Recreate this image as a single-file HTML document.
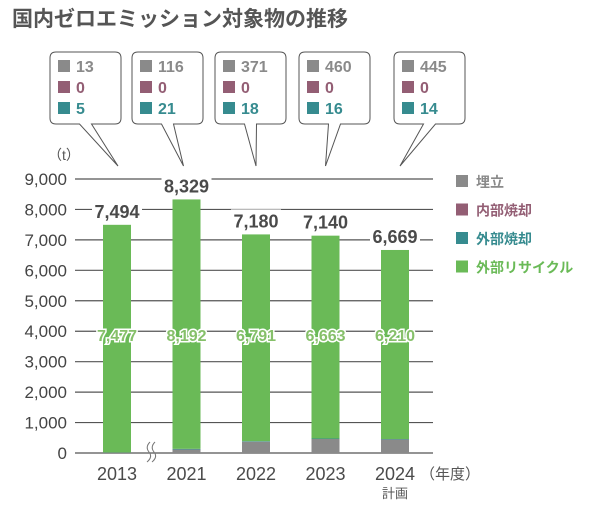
<!DOCTYPE html>
<html><head><meta charset="utf-8"><style>
body{margin:0;background:#fff;}
svg text{font-family:"Liberation Sans","Noto Sans CJK JP",sans-serif;}
</style></head><body>
<svg width="610" height="508" viewBox="0 0 610 508">
<text x="12" y="26" font-size="21" font-weight="bold" fill="#555">国内ゼロエミッション対象物の推移</text>
<text x="48" y="160" font-size="14" fill="#555">（t）</text>
<g id="grid"></g><g id="bars"></g><g id="labels"></g><g id="bubbles"></g>
<text x="420" y="479" font-size="15" fill="#555">（年度）</text>
<text x="395" y="498" font-size="13" fill="#555" text-anchor="middle">計画</text>
<path d="M150 442 q-5 5 -1 10 q4 5 -2 10 M155 442 q-5 5 -1 10 q4 5 -2 10" stroke="#777" fill="none" stroke-width="1"/>
<g id="legend"></g>
</svg>
<script>
const categories=["2013","2021","2022","2023","2024"];
const landfill=[13,116,371,460,445];
const incin=[0,0,0,0,0];
const extInc=[5,21,18,16,14];
const recycle=[7477,8192,6791,6663,6210];
const totals=[7494,8329,7180,7140,6669];
const yTicks=[0,1000,2000,3000,4000,5000,6000,7000,8000,9000];
const seriesNames=["埋立","内部焼却","外部焼却","外部リサイクル"];
const colors=["#8a8a8a","#935e74","#368b8f","#6aba57"];
const NS="http://www.w3.org/2000/svg";
const y0=453,yTop=179,yMax=9000;
const y=v=>y0-v/yMax*(y0-yTop);
const xc=i=>117+i*69.5;
function mk(p,t,a){const e=document.createElementNS(NS,t);for(const k in a)e.setAttribute(k,a[k]);document.getElementById(p).appendChild(e);return e;}
const fmt=v=>v.toLocaleString("en-US");
yTicks.forEach(t=>{
 const l=mk("grid","line",{x1:75,x2:433,y1:y(t),y2:y(t),stroke:"#555","stroke-width":1.2});
 
 
 const tx=mk("grid","text",{x:67,y:y(t)+6,"font-size":17,fill:"#444","text-anchor":"end"});tx.textContent=fmt(t);
 
 
});
const series=[landfill,incin,extInc,recycle];
categories.forEach((c,i)=>{
 let acc=0;
 series.forEach((s,k)=>{
  const r=mk("bars","rect",{x:xc(i)-14,width:28,y:y(acc+s[i]),height:y(acc)-y(acc+s[i]),fill:colors[k]});
  
  
  acc+=s[i];
 });
 const tw=50;
 const bg=mk("labels","rect",{x:xc(i)-tw/2,y:y(totals[i])-25,width:tw,height:22,fill:"#fff"});
 
 
 const tt=mk("labels","text",{x:xc(i),y:y(totals[i])-7,"font-size":18,"font-weight":"bold",fill:"#4a4a4a","text-anchor":"middle"});tt.textContent=fmt(totals[i]);
 
 
 const gl=mk("labels","text",{x:xc(i),y:y(0)-112,"font-size":16,"font-weight":"bold",fill:"#86c06a",stroke:"#fff","stroke-width":3,"paint-order":"stroke","text-anchor":"middle"});gl.textContent=fmt(recycle[i]);
 
 
 const xl=mk("labels","text",{x:xc(i),y:480,"font-size":18,fill:"#4a4a4a","text-anchor":"middle"});xl.textContent=c;
 
 
 const bx=[50,132,215,299,394][i],bw=71,by=52,bh=72;
 const tipx=xc(i)+(i==0?1:i==1?-3:0)+(i==4?5:0), tipy=166;
 const p=mk("bubbles","path",{d:`M${bx+6} ${by} h${bw-12} q6 0 6 6 v${bh-12} q0 6 -6 6 H${bx+bw/2+6} L${tipx} ${tipy} L${bx+bw/2-6} ${by+bh} H${bx+6} q-6 0 -6 -6 v-${bh-12} q0 -6 6 -6z`,fill:"#fff",stroke:"#555","stroke-width":1});
 
 
 [landfill,incin,extInc].forEach((s,k)=>{
  const sq=mk("bubbles","rect",{x:bx+8,y:by+8+k*21,width:12,height:12,fill:colors[k]});
  
  
  const t=mk("bubbles","text",{x:bx+26,y:by+20+k*21,"font-size":16,"font-weight":"bold",fill:colors[k]});t.textContent=fmt(s[i]);
  
  
 });
});
seriesNames.forEach((n,k)=>{
 const sq=mk("legend","rect",{x:456,y:175+k*28.5,width:12,height:12,fill:colors[k]});
 
 
 const t=mk("legend","text",{x:476,y:187+k*28.5,"font-size":14,"font-weight":"bold",fill:colors[k]});t.textContent=n;
 
 
});
</script>
</body></html>
